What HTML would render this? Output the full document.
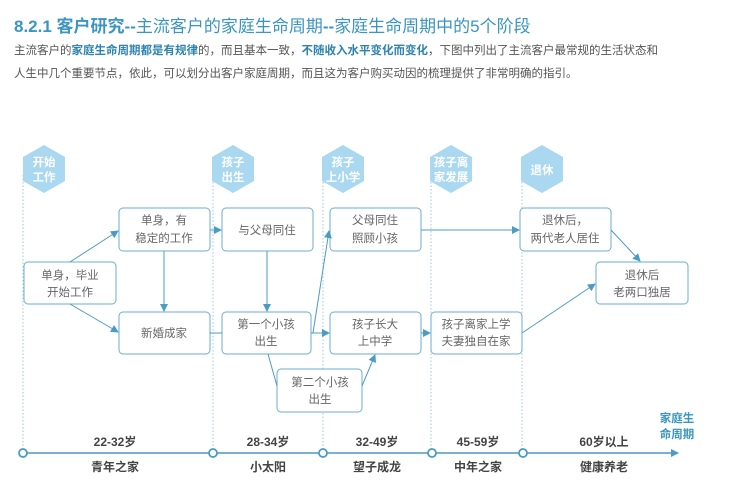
<!DOCTYPE html>
<html><head><meta charset="utf-8"><style>
body{margin:0;width:732px;height:498px;background:#fff;overflow:hidden;font-family:"Liberation Sans","Noto Sans CJK SC",sans-serif}
.t{position:absolute;left:14px;top:12px;font-size:17px;color:#3a95c2;white-space:nowrap}
.p{position:absolute;left:14px;font-size:11.5px;color:#555;white-space:nowrap}
.p b{color:#2e84b0}
</style></head><body>
<div class="t"><b>8.2.1 客户研究--</b>主流客户的家庭生命周期<b>--</b>家庭生命周期中的5个阶段</div>
<div class="p" style="top:42px">主流客户的<b>家庭生命周期都是有规律</b>的，而且基本一致，<b>不随收入水平变化而变化</b>，下图中列出了主流客户最常规的生活状态和</div>
<div class="p" style="top:65px">人生中几个重要节点，依此，可以划分出客户家庭周期，而且这为客户购买动因的梳理提供了非常明确的指引。</div>
<svg width="732" height="498" style="position:absolute;left:0;top:0" font-family="Liberation Sans,Noto Sans CJK SC,sans-serif">
<defs><marker id="a" markerWidth="8" markerHeight="8" refX="7" refY="4" orient="auto" markerUnits="userSpaceOnUse"><path d="M0,0L8,4L0,8z" fill="#4a9cc4"/></marker></defs>
<g stroke="#9cc8dd" stroke-dasharray="1.5,2" stroke-width="1">
<line x1="23" y1="175" x2="23" y2="453"/><line x1="213" y1="175" x2="213" y2="453"/><line x1="323" y1="175" x2="323" y2="453"/><line x1="431" y1="175" x2="431" y2="453"/><line x1="522" y1="175" x2="522" y2="453"/>
</g>
<g fill="#a9d8f0">
<polygon points="44,145 65,157 65,181 44,193 23,181 23,157"/>
<polygon points="233,145 254,157 254,181 233,193 212,181 212,157"/>
<polygon points="343,145 364,157 364,181 343,193 322,181 322,157"/>
<polygon points="451,145 472,157 472,181 451,193 430,181 430,157"/>
<polygon points="542,145 563,157 563,181 542,193 521,181 521,157"/>
</g>
<g fill="#fff" font-size="11.5" font-weight="bold" text-anchor="middle">
<text x="44" y="166">开始</text><text x="44" y="181">工作</text>
<text x="233" y="166">孩子</text><text x="233" y="181">出生</text>
<text x="343" y="166">孩子</text><text x="343" y="181">上小学</text>
<text x="451" y="166">孩子离</text><text x="451" y="181">家发展</text>
<text x="542" y="174">退休</text>
</g>
<g fill="#fff" stroke="#6aaed0" stroke-width="1">
<rect x="24" y="262" width="92" height="42" rx="4"/>
<rect x="119" y="208" width="91" height="43" rx="4"/>
<rect x="119" y="312" width="91" height="42" rx="4"/>
<rect x="222" y="208" width="91" height="43" rx="4"/>
<rect x="222" y="312" width="89" height="42" rx="4"/>
<rect x="330" y="208" width="91" height="43" rx="4"/>
<rect x="330" y="312" width="91" height="42" rx="4"/>
<rect x="431" y="312" width="91" height="42" rx="4"/>
<rect x="520" y="208" width="91" height="43" rx="4"/>
<rect x="596" y="262" width="92" height="42" rx="4"/>
<rect x="277" y="369" width="85" height="43" rx="4"/>
</g>
<g fill="#666" font-size="11.5" text-anchor="middle">
<text x="70" y="279">单身，毕业</text><text x="70" y="296">开始工作</text>
<text x="164" y="224">单身，有</text><text x="164" y="242">稳定的工作</text>
<text x="164" y="337">新婚成家</text>
<text x="267" y="234">与父母同住</text>
<text x="266" y="328">第一个小孩</text><text x="266" y="345">出生</text>
<text x="375" y="224">父母同住</text><text x="375" y="242">照顾小孩</text>
<text x="375" y="328">孩子长大</text><text x="375" y="345">上中学</text>
<text x="476" y="328">孩子离家上学</text><text x="476" y="345">夫妻独自在家</text>
<text x="565" y="224">退休后，</text><text x="565" y="242">两代老人居住</text>
<text x="642" y="279">退休后</text><text x="642" y="296">老两口独居</text>
<text x="320" y="386">第二个小孩</text><text x="320" y="403">出生</text>
</g>
<g stroke="#4a9cc4" stroke-width="1" fill="none">
<line x1="70" y1="262" x2="118" y2="231" marker-end="url(#a)"/>
<line x1="70" y1="304" x2="118" y2="332" marker-end="url(#a)"/>
<line x1="164" y1="251" x2="164" y2="311" marker-end="url(#a)"/>
<line x1="210" y1="230" x2="221" y2="230" marker-end="url(#a)"/>
<line x1="267" y1="251" x2="267" y2="311" marker-end="url(#a)"/>
<line x1="210" y1="333" x2="222" y2="333"/>
<line x1="311" y1="333" x2="329" y2="333" marker-end="url(#a)"/>
<line x1="313" y1="333" x2="329" y2="231" marker-end="url(#a)"/>
<line x1="268" y1="354" x2="277" y2="386"/>
<line x1="362" y1="386" x2="375" y2="355" marker-end="url(#a)"/>
<line x1="421" y1="230" x2="519" y2="230" marker-end="url(#a)"/>
<line x1="421" y1="333" x2="430" y2="333" marker-end="url(#a)"/>
<line x1="522" y1="333" x2="595" y2="284" marker-end="url(#a)"/>
<line x1="611" y1="230" x2="640" y2="261" marker-end="url(#a)"/>
<line x1="20" y1="453" x2="678" y2="453" stroke-width="1.5" marker-end="url(#a)"/>
</g>
<g fill="#fff" stroke="#4a9cc4" stroke-width="1.8">
<circle cx="23" cy="453" r="4"/><circle cx="213" cy="453" r="4"/><circle cx="323" cy="453" r="4"/><circle cx="432" cy="453" r="4"/><circle cx="523" cy="453" r="4"/>
</g>
<g fill="#3a95c2" font-size="11.5" font-weight="bold" text-anchor="middle">
<text x="677" y="422">家庭生</text><text x="677" y="438">命周期</text>
</g>
<g fill="#444" font-size="12" font-weight="bold" text-anchor="middle">
<text x="115" y="446">22-32岁</text><text x="268" y="446">28-34岁</text><text x="377" y="446">32-49岁</text><text x="478" y="446">45-59岁</text><text x="604" y="446">60岁以上</text>
<text x="115" y="471">青年之家</text><text x="268" y="471">小太阳</text><text x="377" y="471">望子成龙</text><text x="478" y="471">中年之家</text><text x="604" y="471">健康养老</text>
</g>
</svg>
</body></html>
